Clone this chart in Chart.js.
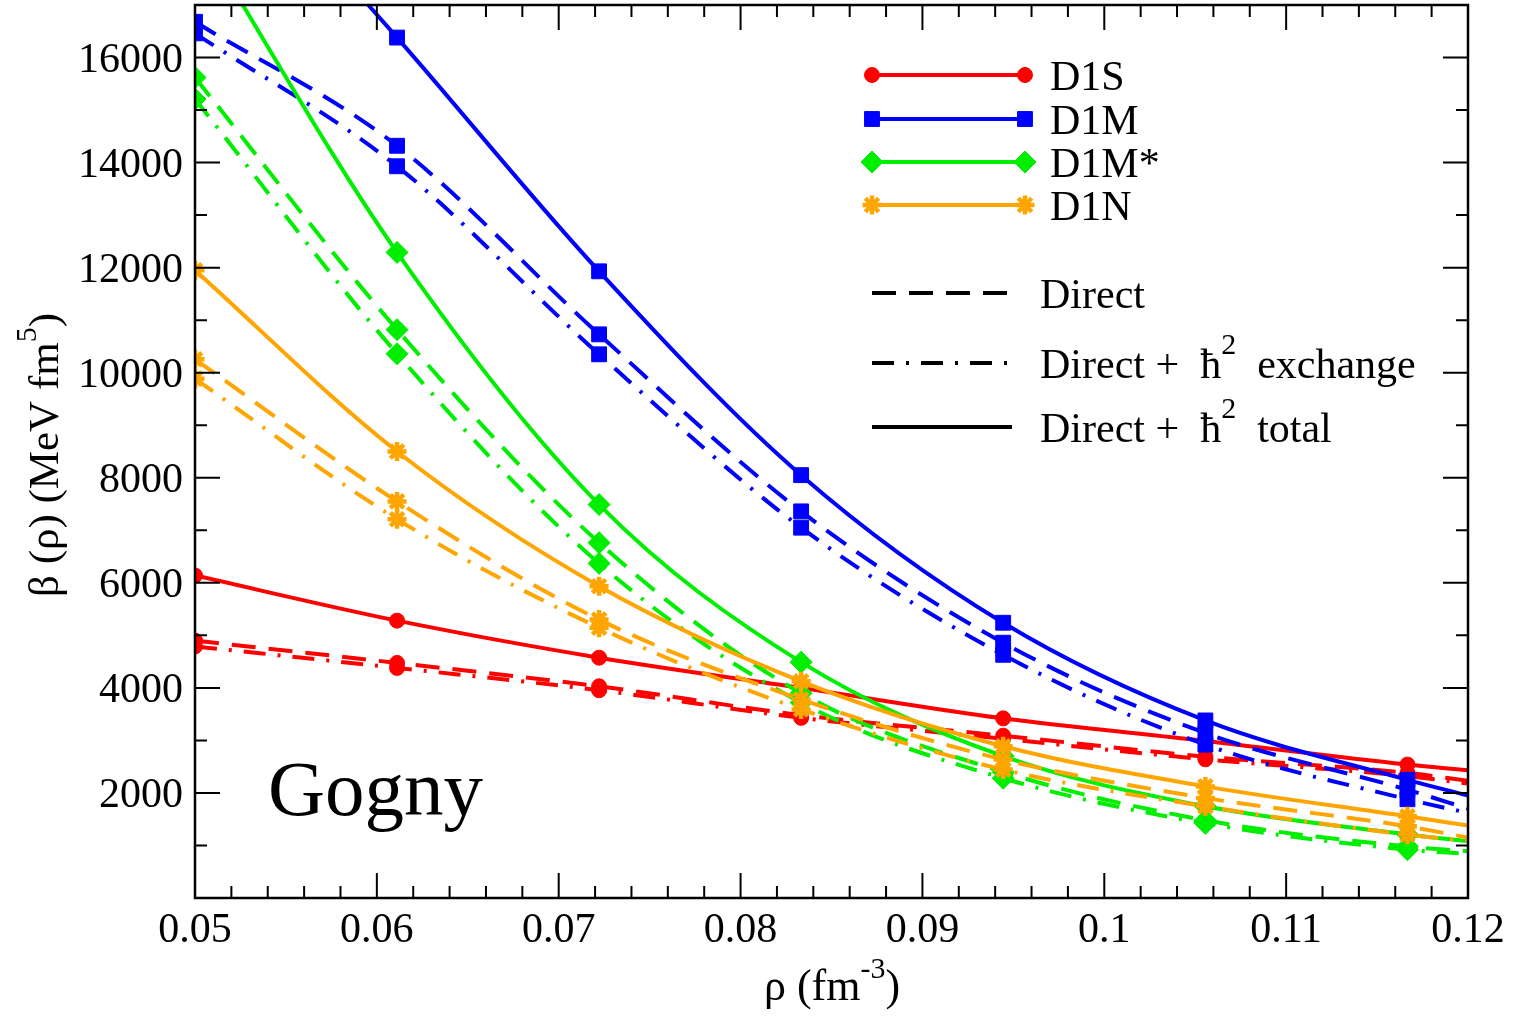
<!DOCTYPE html>
<html>
<head>
<meta charset="utf-8">
<script src="https://cdn.jsdelivr.net/npm/chart.js@4.4.1/dist/chart.umd.min.js"></script>
<style>
    html, body { margin: 0; padding: 0; background: #fff; }
    #chart-beta { display: block; }
</style>
</head>
<body>
<canvas id="chart-beta" width="1513" height="1017"></canvas>
<script>
// densities (fm^-3); the last one is just where the curves hit the frame (no marker)
const rho = [0.05, 0.06111, 0.07222, 0.08333, 0.09444, 0.10556, 0.11667, 0.12];

// beta(rho) in MeV fm^5
const d1sTotal    = [6140, 5280, 4575, 4000, 3420, 2990, 2540, 2430];
const d1sDirect   = [4900, 4475, 4030, 3480, 3090, 2690, 2380, 2230];
const d1sExchange = [4790, 4380, 3955, 3430, 3030, 2640, 2320, 2180];

const d1mTotal    = [20700, 16380, 11930, 8050, 5240, 3380, 2250, 1950];
const d1mDirect   = [16680, 14320, 10730, 7360, 4860, 3140, 2060, 1700];
const d1mExchange = [16460, 13930, 10350, 7050, 4630, 2920, 1880, 1620];

const d1mStarTotal    = [18500, 12290, 7490, 4490, 2700, 1745, 1210, 1080];
const d1mStarDirect   = [15620, 10820, 6765, 3900, 2400, 1480, 980, 890];
const d1mStarExchange = [15210, 10360, 6370, 3720, 2280, 1420, 920, 840];

const d1nTotal    = [11950, 8500, 5935, 4125, 2890, 2125, 1555, 1380];
const d1nDirect   = [10255, 7550, 5300, 3780, 2635, 1905, 1365, 1150];
const d1nExchange = [9885, 7210, 5145, 3590, 2445, 1745, 1205, 1090];

const forces = ['D1S', 'D1M', 'D1M*', 'D1N'];
const styleLabels = ['Direct', 'Direct +  \u0127', 'Direct +  \u0127'];
const yTickValues = [2000, 4000, 6000, 8000, 10000, 12000, 14000, 16000];

const SERIF = "'Liberation Serif', 'DejaVu Serif', serif";
const RED = '#ff0000';
const BLUE = '#0000ff';
const GREEN = '#00ee00';
const ORANGE = '#ffa500';

const LINE_W = 4;
const DASHED = [24, 13];
const DASHDOT = [22, 12, 3, 12];

const markers = {
    'D1S':  { style: 'circle',  radius: 7.5,  color: RED },
    'D1M':  { style: 'rect',    radius: 10.5, color: BLUE },
    'D1M*': { style: 'rectRot', radius: 11,   color: GREEN },
    'D1N':  { style: 'star',    radius: 9.5,  color: ORANGE }
};

function makeDataset(force, values, dash, order) {
    const m = markers[force];
    return {
        label: force,
        data: values.map((v, i) => ({ x: rho[i], y: v })),
        borderColor: m.color,
        backgroundColor: m.color,
        borderWidth: LINE_W,
        borderDash: dash,
        borderCapStyle: 'butt',
        cubicInterpolationMode: 'monotone',
        pointStyle: m.style,
        pointRadius: values.map((v, i) => i === values.length - 1 ? 0 : m.radius),
        pointBorderWidth: m.style === 'star' ? 4.5 : 1,
        pointBorderColor: m.color,
        pointBackgroundColor: m.color,
        order: order
    };
}

// frame, inward ticks on all four sides, y tick labels
const framePlugin = {
    id: 'frame',
    afterDatasetsDraw(chart) {
        const ctx = chart.ctx;
        const a = chart.chartArea;
        const xs = chart.scales.x;
        const ys = chart.scales.y;
        ctx.save();
        ctx.strokeStyle = '#000';
        ctx.lineWidth = 2.5;
        ctx.setLineDash([]);
        ctx.strokeRect(a.left, a.top, a.right - a.left, a.bottom - a.top);
        ctx.lineWidth = 2;
        ctx.beginPath();
        for (let i = 1; i < 35; i++) {
            const px = xs.getPixelForValue(0.05 + i * 0.002);
            const len = i % 5 === 0 ? 25 : 12;
            ctx.moveTo(px, a.bottom); ctx.lineTo(px, a.bottom - len);
            ctx.moveTo(px, a.top); ctx.lineTo(px, a.top + len);
        }
        for (let v = 1000; v < 17000; v += 1000) {
            const py = ys.getPixelForValue(v);
            const len = v % 2000 === 0 ? 25 : 12;
            ctx.moveTo(a.left, py); ctx.lineTo(a.left + len, py);
            ctx.moveTo(a.right, py); ctx.lineTo(a.right - len, py);
        }
        ctx.stroke();

        ctx.fillStyle = '#000';
        ctx.font = '42px ' + SERIF;
        ctx.textAlign = 'right';
        ctx.textBaseline = 'alphabetic';
        yTickValues.forEach(v => {
            ctx.fillText(String(v), a.left - 12, ys.getPixelForValue(v) + 14);
        });
        ctx.restore();
    }
};

function textWithSup(ctx, parts, x, y) {
    // parts: [text, size, raise]
    let cx = x;
    parts.forEach(p => {
        ctx.font = p[1] + 'px ' + SERIF;
        ctx.fillText(p[0], cx, y - p[2]);
        cx += ctx.measureText(p[0]).width;
    });
    return cx - x;
}

function widthWithSup(ctx, parts) {
    let w = 0;
    parts.forEach(p => {
        ctx.font = p[1] + 'px ' + SERIF;
        w += ctx.measureText(p[0]).width;
    });
    return w;
}

const annotatePlugin = {
    id: 'annotate',
    afterDraw(chart) {
        const ctx = chart.ctx;
        ctx.save();
        ctx.fillStyle = '#000';
        ctx.textBaseline = 'alphabetic';
        ctx.textAlign = 'left';

        // force legend: line with a marker on each end
        const rows = [75, 119, 162, 205];
        forces.forEach((f, i) => {
            const m = markers[f];
            const y = rows[i];
            ctx.strokeStyle = m.color;
            ctx.fillStyle = m.color;
            ctx.lineWidth = LINE_W;
            ctx.setLineDash([]);
            ctx.beginPath();
            ctx.moveTo(872, y);
            ctx.lineTo(1025, y);
            ctx.stroke();
            ctx.lineWidth = m.style === 'star' ? 4.5 : 1;
            [872, 1025].forEach(x => {
                Chart.helpers.drawPoint(ctx, { pointStyle: m.style, radius: m.radius, borderWidth: ctx.lineWidth, rotation: 0 }, x, y);
            });
            ctx.fillStyle = '#000';
            ctx.font = '42px ' + SERIF;
            ctx.fillText(f, 1050, y + 15);
        });

        // line style legend
        const styleRows = [
            { y: 293, dash: DASHED, parts: [[styleLabels[0], 42, 0]] },
            { y: 363, dash: DASHDOT, parts: [[styleLabels[1], 42, 0], ['2', 30, 24], ['  exchange', 42, 0]] },
            { y: 427, dash: [], parts: [[styleLabels[2], 42, 0], ['2', 30, 24], ['  total', 42, 0]] }
        ];
        styleRows.forEach(r => {
            ctx.strokeStyle = '#000';
            ctx.lineWidth = LINE_W;
            ctx.lineCap = 'butt';
            ctx.setLineDash(r.dash);
            ctx.beginPath();
            ctx.moveTo(872, r.y);
            ctx.lineTo(1012, r.y);
            ctx.stroke();
            ctx.setLineDash([]);
            ctx.fillStyle = '#000';
            textWithSup(ctx, r.parts, 1040, r.y + 15);
        });

        // Gogny label
        ctx.font = '79px ' + SERIF;
        ctx.fillText('Gogny', 268, 815);

        // x axis title
        const xParts = [['\u03c1 (fm', 44, 0], ['-3', 30, 22], [')', 44, 0]];
        const xw = widthWithSup(ctx, xParts);
        textWithSup(ctx, xParts, 832 - xw / 2, 1000);

        // y axis title (rotated)
        const yParts = [['\u03b2 (\u03c1) (MeV fm', 43, 0], ['5', 30, 22], [')', 43, 0]];
        const yw = widthWithSup(ctx, yParts);
        ctx.translate(58, 455);
        ctx.rotate(-Math.PI / 2);
        textWithSup(ctx, yParts, -yw / 2, 0);
        ctx.restore();
    }
};

const chartBeta = new Chart(document.getElementById('chart-beta'), {
    type: 'line',
    data: {
        datasets: [
            makeDataset('D1N', d1nTotal, [], 1),
            makeDataset('D1N', d1nDirect, DASHED, 1),
            makeDataset('D1N', d1nExchange, DASHDOT, 1),
            makeDataset('D1M*', d1mStarTotal, [], 2),
            makeDataset('D1M*', d1mStarDirect, DASHED, 2),
            makeDataset('D1M*', d1mStarExchange, DASHDOT, 2),
            makeDataset('D1M', d1mTotal, [], 3),
            makeDataset('D1M', d1mDirect, DASHED, 3),
            makeDataset('D1M', d1mExchange, DASHDOT, 3),
            makeDataset('D1S', d1sTotal, [], 4),
            makeDataset('D1S', d1sDirect, DASHED, 4),
            makeDataset('D1S', d1sExchange, DASHDOT, 4)
        ]
    },
    options: {
        responsive: false,
        animation: false,
        events: [],
        layout: {
            autoPadding: false,
            padding: { left: 0, right: 45, top: 5, bottom: 0 }
        },
        scales: {
            x: {
                type: 'linear',
                min: 0.05,
                max: 0.12,
                grid: { display: false, drawTicks: false },
                border: { display: false },
                ticks: {
                    stepSize: 0.01,
                    padding: 8,
                    color: '#000',
                    font: { family: SERIF, size: 42 },
                    callback: v => String(parseFloat(v.toFixed(2)))
                },
                afterFit: scale => { scale.height = 119; }
            },
            y: {
                type: 'linear',
                min: 0,
                max: 17000,
                grid: { display: false, drawTicks: false },
                border: { display: false },
                ticks: { display: false },
                afterFit: scale => { scale.width = 195; }
            }
        },
        plugins: {
            legend: { display: false },
            tooltip: { enabled: false },
            title: { display: false }
        }
    },
    plugins: [framePlugin, annotatePlugin]
});
</script>
</body>
</html>
